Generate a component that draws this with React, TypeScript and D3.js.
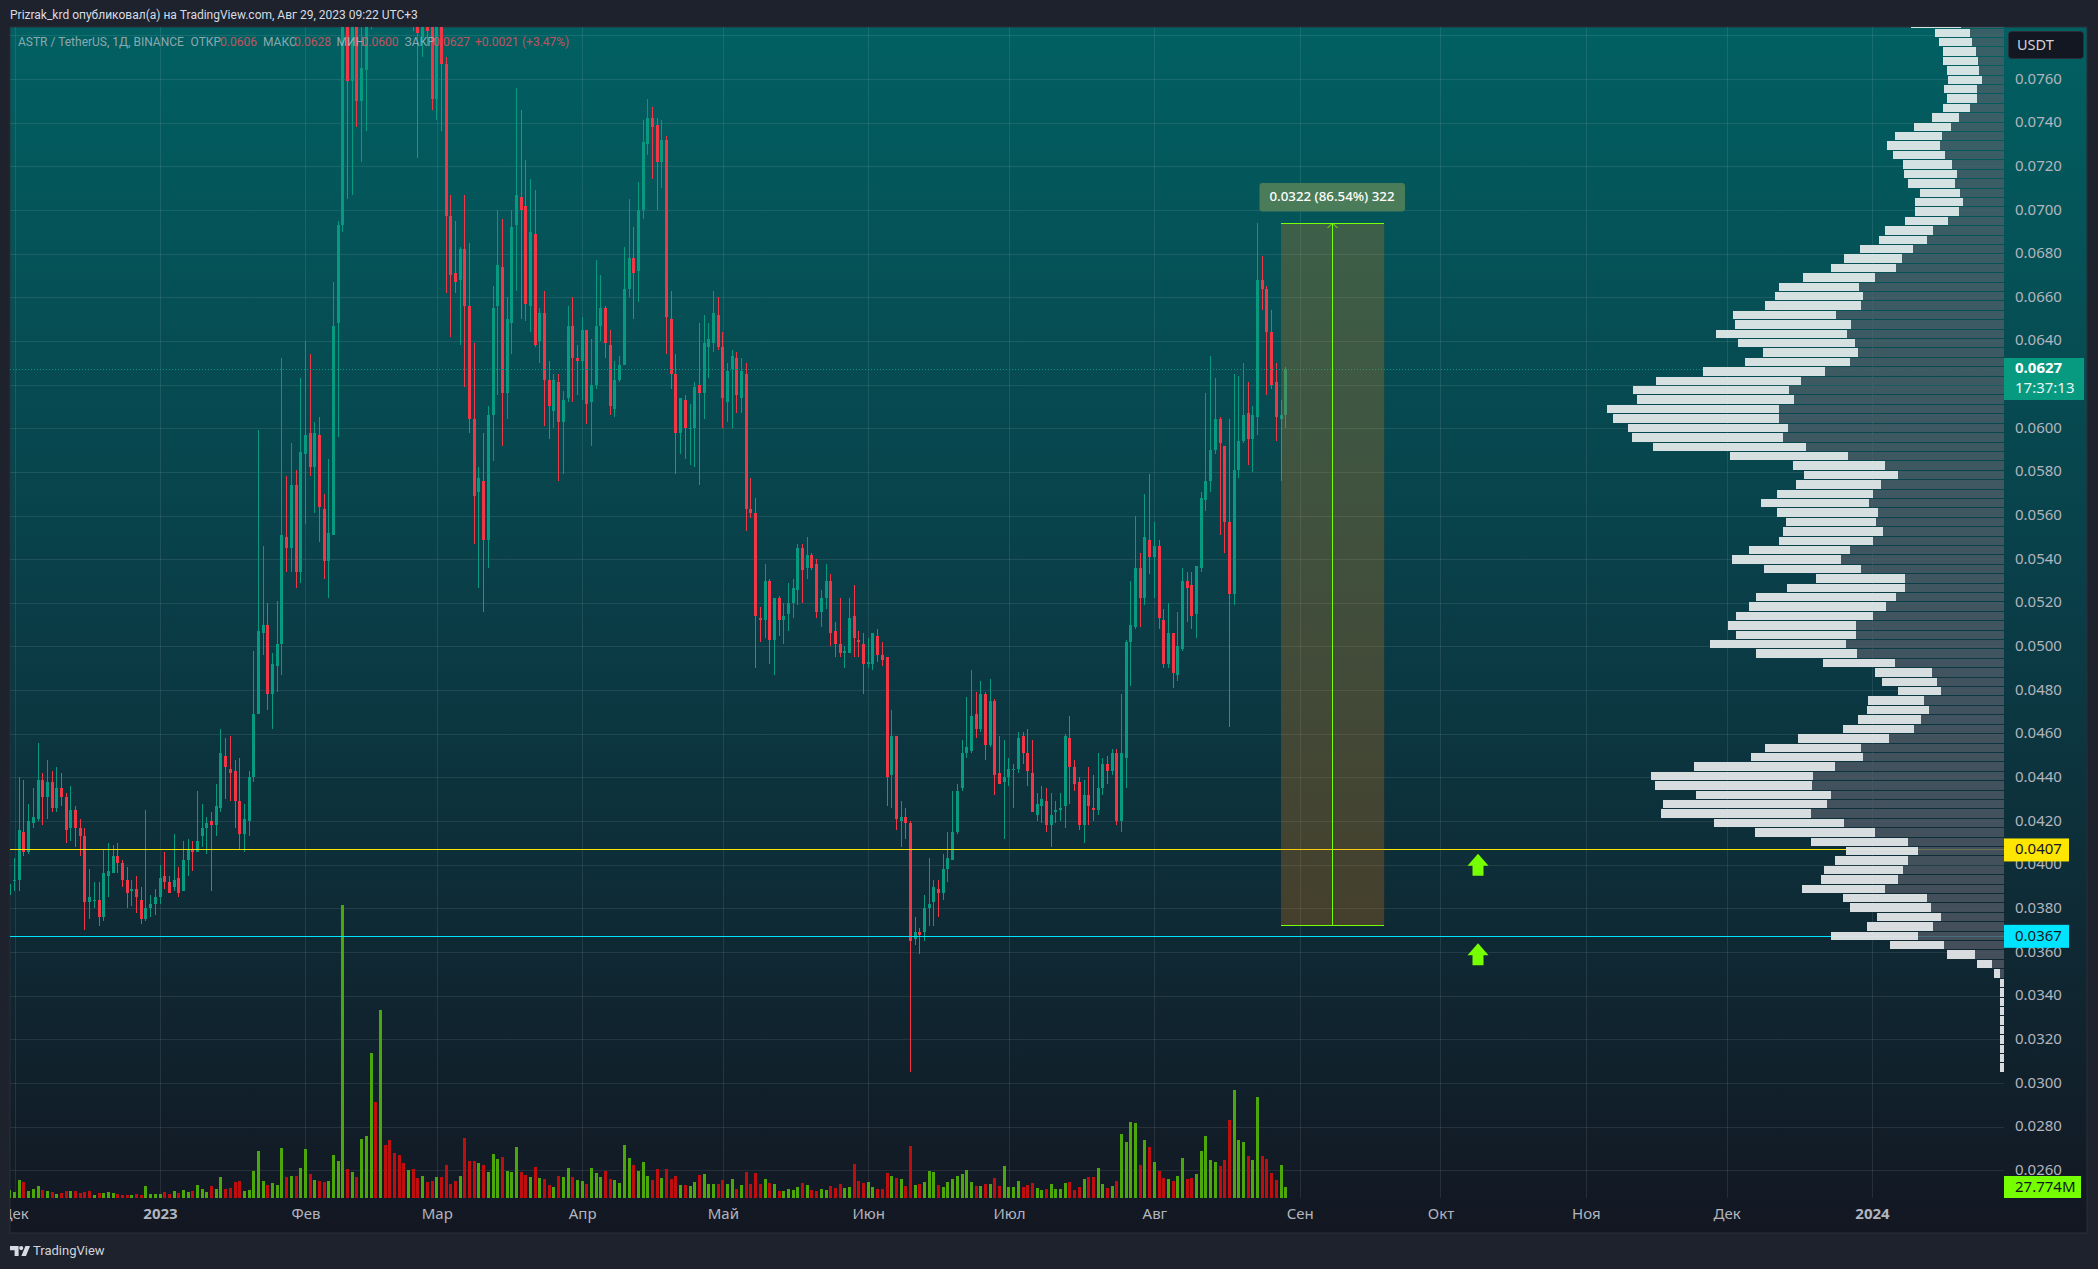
import { useEffect, useRef } from 'react';
import * as d3 from 'd3';

// daily candles, first one is 30 Nov 2022, last one is 29 Aug 2023
const firstDay = Date.UTC(2022, 10, 30);

const opens = [
  0.0386, 0.0393, 0.0393, 0.0415, 0.0406, 0.0419, 0.0421, 0.0439, 0.0431, 0.0438,
  0.0426, 0.0435, 0.0431, 0.0417, 0.0425, 0.0417, 0.0413, 0.0383, 0.0384, 0.0384,
  0.0376, 0.0395, 0.0396, 0.0404, 0.0401, 0.0393, 0.0388, 0.0389, 0.0384, 0.0375,
  0.0380, 0.0382, 0.0385, 0.0395, 0.0392, 0.0390, 0.0394, 0.0388, 0.0402, 0.0407,
  0.0406, 0.0413, 0.0417, 0.0420, 0.0418, 0.0426, 0.0450, 0.0444, 0.0443, 0.0429,
  0.0414, 0.0420, 0.0440, 0.0469, 0.0506, 0.0510, 0.0478, 0.0491, 0.0501, 0.0550,
  0.0545, 0.0574, 0.0534, 0.0588, 0.0598, 0.0582, 0.0597, 0.0563, 0.0539, 0.0551,
  0.0648, 0.0693, 0.0840, 0.0759, 0.0830, 0.0750, 0.0764, 0.0800, 0.0815, 0.0800,
  0.0850, 0.0825, 0.0810, 0.0800, 0.0795, 0.0790, 0.0800, 0.0795, 0.0779, 0.0785,
  0.0790, 0.0751, 0.0788, 0.0767, 0.0697, 0.0671, 0.0668, 0.0682, 0.0656, 0.0604,
  0.0571, 0.0576, 0.0549, 0.0606, 0.0656, 0.0674, 0.0616, 0.0648, 0.0693, 0.0706,
  0.0702, 0.0656, 0.0689, 0.0640, 0.0653, 0.0622, 0.0608, 0.0621, 0.0603, 0.0614,
  0.0647, 0.0632, 0.0631, 0.0645, 0.0612, 0.0620, 0.0647, 0.0655, 0.0638, 0.0609,
  0.0622, 0.0629, 0.0664, 0.0678, 0.0672, 0.0700, 0.0730, 0.0742, 0.0739, 0.0722,
  0.0732, 0.0650, 0.0625, 0.0598, 0.0613, 0.0600, 0.0600, 0.0620, 0.0616, 0.0637,
  0.0639, 0.0652, 0.0637, 0.0612, 0.0627, 0.0632, 0.0614, 0.0625, 0.0563, 0.0561,
  0.0513, 0.0512, 0.0530, 0.0503, 0.0522, 0.0512, 0.0515, 0.0520, 0.0526, 0.0545,
  0.0536, 0.0542, 0.0538, 0.0516, 0.0522, 0.0530, 0.0507, 0.0501, 0.0497, 0.0497,
  0.0514, 0.0503, 0.0501, 0.0492, 0.0492, 0.0505, 0.0496, 0.0495, 0.0441, 0.0459,
  0.0420, 0.0422, 0.0419, 0.0366, 0.0369, 0.0369, 0.0380, 0.0383, 0.0389, 0.0387,
  0.0398, 0.0402, 0.0415, 0.0435, 0.0451, 0.0452, 0.0469, 0.0462, 0.0478, 0.0455,
  0.0475, 0.0442, 0.0438, 0.0440, 0.0444, 0.0444, 0.0459, 0.0451, 0.0442, 0.0423,
  0.0427, 0.0429, 0.0418, 0.0424, 0.0425, 0.0427, 0.0458, 0.0445, 0.0438, 0.0418,
  0.0432, 0.0426, 0.0425, 0.0435, 0.0446, 0.0443, 0.0451, 0.0420, 0.0449, 0.0502,
  0.0509, 0.0536, 0.0522, 0.0549, 0.0541, 0.0546, 0.0512, 0.0492, 0.0506, 0.0487,
  0.0499, 0.0530, 0.0528, 0.0515, 0.0536, 0.0567, 0.0576, 0.0590, 0.0604, 0.0592,
  0.0557, 0.0524, 0.0581, 0.0594, 0.0607, 0.0595, 0.0605, 0.0668, 0.0664, 0.0644,
  0.0621, 0.0604, 0.0606,
];

const closes = [
  0.0391, 0.0393, 0.0416, 0.0406, 0.0420, 0.0422, 0.0439, 0.0431, 0.0438, 0.0426,
  0.0435, 0.0431, 0.0416, 0.0425, 0.0417, 0.0413, 0.0383, 0.0385, 0.0384, 0.0376,
  0.0396, 0.0397, 0.0404, 0.0401, 0.0393, 0.0387, 0.0389, 0.0385, 0.0375, 0.0380,
  0.0382, 0.0385, 0.0394, 0.0392, 0.0387, 0.0393, 0.0387, 0.0402, 0.0407, 0.0406,
  0.0411, 0.0417, 0.0419, 0.0418, 0.0427, 0.0451, 0.0445, 0.0442, 0.0429, 0.0414,
  0.0421, 0.0440, 0.0469, 0.0507, 0.0510, 0.0478, 0.0492, 0.0501, 0.0551, 0.0545,
  0.0574, 0.0534, 0.0589, 0.0597, 0.0582, 0.0598, 0.0564, 0.0539, 0.0552, 0.0647,
  0.0693, 0.0840, 0.0759, 0.0830, 0.0750, 0.0765, 0.0800, 0.0815, 0.0800, 0.0850,
  0.0825, 0.0810, 0.0800, 0.0795, 0.0790, 0.0800, 0.0795, 0.0781, 0.0785, 0.0782,
  0.0751, 0.0788, 0.0767, 0.0697, 0.0670, 0.0667, 0.0682, 0.0656, 0.0604, 0.0569,
  0.0577, 0.0549, 0.0606, 0.0655, 0.0675, 0.0616, 0.0650, 0.0692, 0.0707, 0.0700,
  0.0657, 0.0690, 0.0638, 0.0653, 0.0622, 0.0610, 0.0622, 0.0603, 0.0613, 0.0647,
  0.0632, 0.0631, 0.0645, 0.0611, 0.0620, 0.0647, 0.0655, 0.0639, 0.0610, 0.0622,
  0.0629, 0.0664, 0.0678, 0.0671, 0.0700, 0.0731, 0.0742, 0.0738, 0.0722, 0.0732,
  0.0651, 0.0625, 0.0598, 0.0614, 0.0600, 0.0600, 0.0619, 0.0616, 0.0639, 0.0641,
  0.0653, 0.0637, 0.0614, 0.0626, 0.0633, 0.0615, 0.0626, 0.0563, 0.0561, 0.0514,
  0.0512, 0.0530, 0.0503, 0.0522, 0.0512, 0.0514, 0.0520, 0.0527, 0.0545, 0.0535,
  0.0542, 0.0536, 0.0516, 0.0522, 0.0530, 0.0506, 0.0501, 0.0497, 0.0498, 0.0513,
  0.0504, 0.0502, 0.0492, 0.0493, 0.0506, 0.0496, 0.0494, 0.0440, 0.0459, 0.0421,
  0.0422, 0.0419, 0.0365, 0.0369, 0.0368, 0.0380, 0.0382, 0.0390, 0.0387, 0.0398,
  0.0403, 0.0415, 0.0434, 0.0451, 0.0454, 0.0468, 0.0462, 0.0478, 0.0455, 0.0475,
  0.0441, 0.0437, 0.0440, 0.0444, 0.0444, 0.0458, 0.0451, 0.0443, 0.0424, 0.0428,
  0.0430, 0.0418, 0.0423, 0.0425, 0.0426, 0.0459, 0.0445, 0.0437, 0.0418, 0.0432,
  0.0427, 0.0425, 0.0435, 0.0446, 0.0443, 0.0451, 0.0420, 0.0451, 0.0502, 0.0510,
  0.0536, 0.0522, 0.0550, 0.0541, 0.0546, 0.0513, 0.0492, 0.0506, 0.0488, 0.0500,
  0.0530, 0.0527, 0.0514, 0.0537, 0.0568, 0.0576, 0.0590, 0.0604, 0.0593, 0.0557,
  0.0524, 0.0581, 0.0594, 0.0606, 0.0595, 0.0606, 0.0668, 0.0664, 0.0644, 0.0620,
  0.0605, 0.0606, 0.0627,
];

const highs = [
  0.0393, 0.0403, 0.0440, 0.0439, 0.0428, 0.0435, 0.0456, 0.0442, 0.0448, 0.0443,
  0.0445, 0.0442, 0.0433, 0.0436, 0.0427, 0.0421, 0.0417, 0.0398, 0.0392, 0.0392,
  0.0407, 0.0410, 0.0409, 0.0410, 0.0402, 0.0399, 0.0393, 0.0395, 0.0390, 0.0425,
  0.0386, 0.0389, 0.0400, 0.0406, 0.0395, 0.0414, 0.0399, 0.0411, 0.0412, 0.0411,
  0.0434, 0.0428, 0.0422, 0.0424, 0.0437, 0.0462, 0.0458, 0.0459, 0.0448, 0.0449,
  0.0428, 0.0443, 0.0498, 0.0599, 0.0546, 0.0520, 0.0497, 0.0521, 0.0632, 0.0578,
  0.0593, 0.0581, 0.0623, 0.0640, 0.0634, 0.0603, 0.0605, 0.0570, 0.0586, 0.0667,
  0.0695, 0.0860, 0.0870, 0.0860, 0.0850, 0.0790, 0.0820, 0.0840, 0.0900, 0.0950,
  0.0870, 0.0840, 0.0830, 0.0815, 0.0810, 0.0815, 0.0810, 0.0810, 0.0795, 0.0800,
  0.0800, 0.0795, 0.0800, 0.0770, 0.0707, 0.0695, 0.0683, 0.0707, 0.0685, 0.0639,
  0.0582, 0.0598, 0.0610, 0.0665, 0.0700, 0.0696, 0.0660, 0.0700, 0.0756, 0.0746,
  0.0723, 0.0714, 0.0709, 0.0655, 0.0663, 0.0631, 0.0625, 0.0625, 0.0617, 0.0656,
  0.0660, 0.0638, 0.0651, 0.0645, 0.0641, 0.0677, 0.0670, 0.0656, 0.0645, 0.0631,
  0.0633, 0.0683, 0.0705, 0.0692, 0.0713, 0.0741, 0.0751, 0.0747, 0.0742, 0.0741,
  0.0734, 0.0663, 0.0634, 0.0614, 0.0615, 0.0611, 0.0621, 0.0648, 0.0652, 0.0648,
  0.0663, 0.0660, 0.0644, 0.0630, 0.0636, 0.0635, 0.0632, 0.0630, 0.0577, 0.0568,
  0.0518, 0.0538, 0.0531, 0.0522, 0.0523, 0.0520, 0.0529, 0.0531, 0.0547, 0.0547,
  0.0550, 0.0543, 0.0540, 0.0526, 0.0538, 0.0533, 0.0511, 0.0522, 0.0500, 0.0522,
  0.0528, 0.0507, 0.0506, 0.0504, 0.0506, 0.0508, 0.0502, 0.0495, 0.0471, 0.0459,
  0.0429, 0.0426, 0.0420, 0.0376, 0.0371, 0.0386, 0.0403, 0.0393, 0.0393, 0.0405,
  0.0415, 0.0434, 0.0437, 0.0457, 0.0477, 0.0489, 0.0479, 0.0484, 0.0479, 0.0485,
  0.0476, 0.0459, 0.0457, 0.0449, 0.0446, 0.0461, 0.0461, 0.0462, 0.0457, 0.0433,
  0.0436, 0.0435, 0.0433, 0.0429, 0.0433, 0.0460, 0.0468, 0.0448, 0.0440, 0.0439,
  0.0445, 0.0441, 0.0451, 0.0449, 0.0450, 0.0453, 0.0453, 0.0478, 0.0503, 0.0530,
  0.0560, 0.0543, 0.0570, 0.0579, 0.0557, 0.0549, 0.0517, 0.0520, 0.0506, 0.0516,
  0.0536, 0.0534, 0.0534, 0.0537, 0.0571, 0.0616, 0.0633, 0.0623, 0.0605, 0.0592,
  0.0604, 0.0625, 0.0624, 0.0630, 0.0621, 0.0610, 0.0694, 0.0679, 0.0665, 0.0654,
  0.0630, 0.0613, 0.0628,
];

const lows = [
  0.0385, 0.0388, 0.0388, 0.0404, 0.0405, 0.0417, 0.0420, 0.0418, 0.0421, 0.0424,
  0.0424, 0.0427, 0.0410, 0.0411, 0.0408, 0.0404, 0.0370, 0.0375, 0.0380, 0.0372,
  0.0374, 0.0385, 0.0396, 0.0396, 0.0390, 0.0380, 0.0381, 0.0378, 0.0373, 0.0374,
  0.0376, 0.0377, 0.0382, 0.0389, 0.0387, 0.0388, 0.0385, 0.0388, 0.0395, 0.0397,
  0.0406, 0.0408, 0.0405, 0.0388, 0.0413, 0.0424, 0.0430, 0.0429, 0.0417, 0.0407,
  0.0406, 0.0413, 0.0438, 0.0469, 0.0496, 0.0471, 0.0462, 0.0479, 0.0487, 0.0534,
  0.0534, 0.0527, 0.0529, 0.0556, 0.0578, 0.0561, 0.0548, 0.0531, 0.0522, 0.0551,
  0.0596, 0.0690, 0.0705, 0.0707, 0.0738, 0.0722, 0.0736, 0.0783, 0.0790, 0.0790,
  0.0800, 0.0795, 0.0790, 0.0790, 0.0788, 0.0786, 0.0782, 0.0724, 0.0770, 0.0775,
  0.0746, 0.0741, 0.0736, 0.0662, 0.0642, 0.0662, 0.0638, 0.0619, 0.0598, 0.0547,
  0.0527, 0.0516, 0.0536, 0.0585, 0.0615, 0.0592, 0.0604, 0.0634, 0.0663, 0.0650,
  0.0649, 0.0644, 0.0637, 0.0630, 0.0601, 0.0595, 0.0600, 0.0576, 0.0579, 0.0612,
  0.0612, 0.0615, 0.0613, 0.0602, 0.0592, 0.0618, 0.0640, 0.0632, 0.0606, 0.0605,
  0.0621, 0.0629, 0.0660, 0.0650, 0.0658, 0.0696, 0.0725, 0.0714, 0.0700, 0.0710,
  0.0634, 0.0618, 0.0579, 0.0588, 0.0586, 0.0583, 0.0582, 0.0574, 0.0604, 0.0623,
  0.0635, 0.0636, 0.0600, 0.0603, 0.0600, 0.0607, 0.0607, 0.0553, 0.0559, 0.0490,
  0.0502, 0.0504, 0.0492, 0.0487, 0.0505, 0.0501, 0.0507, 0.0513, 0.0519, 0.0520,
  0.0531, 0.0535, 0.0513, 0.0509, 0.0517, 0.0500, 0.0495, 0.0495, 0.0490, 0.0497,
  0.0495, 0.0495, 0.0478, 0.0490, 0.0489, 0.0493, 0.0491, 0.0427, 0.0426, 0.0416,
  0.0408, 0.0412, 0.0305, 0.0363, 0.0359, 0.0365, 0.0372, 0.0372, 0.0376, 0.0384,
  0.0392, 0.0402, 0.0414, 0.0434, 0.0449, 0.0451, 0.0458, 0.0461, 0.0448, 0.0454,
  0.0432, 0.0437, 0.0412, 0.0436, 0.0426, 0.0442, 0.0446, 0.0436, 0.0424, 0.0420,
  0.0419, 0.0415, 0.0408, 0.0419, 0.0420, 0.0417, 0.0428, 0.0434, 0.0416, 0.0410,
  0.0418, 0.0420, 0.0423, 0.0432, 0.0437, 0.0441, 0.0418, 0.0415, 0.0435, 0.0482,
  0.0508, 0.0509, 0.0519, 0.0533, 0.0522, 0.0508, 0.0490, 0.0490, 0.0481, 0.0484,
  0.0498, 0.0511, 0.0508, 0.0504, 0.0534, 0.0562, 0.0571, 0.0588, 0.0551, 0.0543,
  0.0463, 0.0519, 0.0577, 0.0593, 0.0583, 0.0580, 0.0597, 0.0654, 0.0615, 0.0618,
  0.0594, 0.0576, 0.0600,
];

// volume in millions
const volumes = [
  20, 15, 45, 40, 18, 23, 30, 20, 18, 15,
  10, 13, 18, 18, 18, 13, 15, 18, 8, 13,
  13, 15, 13, 10, 8, 8, 8, 10, 8, 30,
  10, 10, 10, 15, 10, 18, 13, 20, 15, 18,
  33, 23, 15, 30, 23, 53, 23, 25, 40, 43,
  18, 20, 68, 119, 43, 33, 38, 33, 126, 53,
  56, 56, 76, 124, 61, 45, 43, 40, 43, 109,
  93, 740, 73, 66, 53, 149, 157, 366, 242, 475,
  134, 146, 114, 109, 88, 71, 73, 50, 56, 40,
  43, 53, 53, 83, 35, 43, 56, 151, 93, 93,
  88, 83, 66, 111, 98, 104, 68, 66, 129, 66,
  58, 53, 78, 50, 48, 33, 28, 56, 53, 76,
  53, 45, 43, 35, 76, 63, 53, 68, 48, 45,
  38, 134, 101, 83, 68, 91, 56, 45, 73, 50,
  73, 48, 56, 33, 33, 30, 40, 58, 61, 35,
  35, 35, 45, 35, 48, 23, 33, 66, 35, 63,
  35, 48, 38, 35, 18, 18, 23, 20, 28, 38,
  33, 20, 18, 23, 20, 30, 25, 35, 25, 28,
  86, 43, 38, 40, 28, 23, 23, 63, 56, 50,
  48, 30, 131, 33, 35, 40, 68, 66, 33, 28,
  40, 48, 56, 61, 71, 40, 30, 30, 35, 35,
  50, 30, 81, 28, 28, 43, 28, 33, 38, 25,
  20, 23, 35, 23, 23, 38, 40, 20, 28, 48,
  53, 53, 76, 35, 25, 30, 43, 162, 141, 192,
  189, 83, 146, 129, 91, 68, 50, 48, 43, 56,
  101, 48, 50, 61, 119, 157, 96, 91, 81, 96,
  197, 273, 146, 141, 106, 96, 255, 106, 98, 63,
  45, 83, 27.774,
];
// days whose volume bar has the other colour than the candle body
const volumeFlipped = [17, 121];

// volume profile, rows from the top of the chart downwards
const profileTopPrice = 0.07874;
const profileStep = 0.000431;
const profileLight = [
  149, 105, 99, 99, 105, 96, 102, 99, 90, 81, 81, 111, 141, 159, 156, 147, 159, 141, 120, 144,
  132, 129, 144, 144, 159, 174, 195, 216, 240, 264, 288, 309, 348, 393, 351, 285, 315, 366, 435, 468,
  471, 516, 498, 480, 453, 459, 354, 276, 282, 255, 288, 324, 303, 270, 300, 282, 303, 327, 291, 267,
  354, 420, 411, 411, 384, 360, 408, 303, 216, 171, 165, 129, 168, 186, 189, 213, 273, 288, 336, 423,
  486, 471, 405, 492, 450, 390, 360, 291, 216, 219, 237, 231, 249, 252, 243, 192, 198, 261, 162, 84,
  45, 18, 12, 12, 12, 12, 12, 12, 12, 12, 12, 12,
];
const profileDark = [
  130, 102, 96, 84, 78, 75, 66, 81, 81, 102, 135, 159, 186, 192, 177, 156, 141, 147, 132, 123,
  135, 168, 213, 231, 273, 306, 324, 387, 435, 423, 429, 504, 459, 471, 447, 438, 462, 537, 609, 645,
  630, 675, 675, 648, 663, 594, 468, 357, 318, 369, 393, 405, 378, 384, 363, 393, 462, 489, 429, 297,
  297, 324, 354, 393, 444, 444, 474, 441, 327, 216, 201, 189, 240, 225, 249, 270, 345, 429, 423, 507,
  573, 576, 519, 531, 579, 480, 387, 288, 258, 288, 303, 318, 357, 231, 219, 189, 213, 258, 180, 87,
  36, 12, 0, 0, 0, 0, 0, 0, 0, 0, 0, 0,
];

const priceTicks = [
  0.026, 0.028, 0.03, 0.032, 0.034, 0.036, 0.038, 0.04, 0.042, 0.044, 0.046, 0.048, 0.05, 0.052,
  0.054, 0.056, 0.058, 0.06, 0.062, 0.064, 0.066, 0.068, 0.07, 0.072, 0.074, 0.076, 0.078,
];
// 0.062 and 0.078 sit fully under the last price tag and the currency box
const hiddenPriceLabels = [0.062, 0.078];
const monthTicks = [
  [2022, 11], [2023, 0], [2023, 1], [2023, 2], [2023, 3], [2023, 4], [2023, 5],
  [2023, 6], [2023, 7], [2023, 8], [2023, 9], [2023, 10], [2023, 11], [2024, 0],
].map(([y, m]) => new Date(Date.UTC(y, m, 1)));
const monthLabels = ['Дек', '2023', 'Фев', 'Мар', 'Апр', 'Май', 'Июн', 'Июл', 'Авг', 'Сен', 'Окт', 'Ноя', 'Дек', '2024'];

const lastPrice = 0.0627;
const yellowLevel = 0.0407;
const cyanLevel = 0.03672;
const measureLow = 0.0372;
const measureHigh = 0.0694;
const measureStart = new Date(Date.UTC(2023, 7, 28));
const measureEnd = new Date(Date.UTC(2023, 8, 19));
const arrowDay = new Date(Date.UTC(2023, 9, 9));
const arrowPrices = [0.0405, 0.0364];

const FONT = '"Noto Sans", sans-serif';
const HEAD_FONT = 'Roboto, sans-serif';
const GREEN = '#089981';
const RED = '#f23645';
const LIME = '#76ff05';

export default function App() {
  const svgRef = useRef<SVGSVGElement>(null);

  useEffect(() => {
    if (!svgRef.current) return;
    document.body.style.margin = '0';
    document.body.style.background = '#1e222d';

    const W = 2098;
    const H = 1269;
    const left = 10;
    const top = 27;
    const plotRight = 2004;
    const plotBottom = 1198;
    const panelRight = 2087;
    const panelBottom = 1233;

    const svg = d3.select(svgRef.current);
    svg.selectAll('*').remove();
    svg.attr('width', W).attr('height', H).style('display', 'block').style('font-family', FONT);

    const defs = svg.append('defs');
    const bg = defs.append('linearGradient').attr('id', 'panelBg').attr('x1', 0).attr('x2', 0).attr('y1', 0).attr('y2', 1);
    bg.append('stop').attr('offset', '0%').attr('stop-color', '#016062');
    bg.append('stop').attr('offset', '50%').attr('stop-color', '#0a3c46');
    bg.append('stop').attr('offset', '100%').attr('stop-color', '#131722');
    const darkGrad = defs.append('linearGradient').attr('id', 'profileDark').attr('gradientUnits', 'userSpaceOnUse')
      .attr('x1', 0).attr('x2', 0).attr('y1', top).attr('y2', 1070);
    darkGrad.append('stop').attr('offset', '0%').attr('stop-color', '#456068');
    darkGrad.append('stop').attr('offset', '100%').attr('stop-color', '#515663');
    const lightGrad = defs.append('linearGradient').attr('id', 'profileLight').attr('gradientUnits', 'userSpaceOnUse')
      .attr('x1', 0).attr('x2', 0).attr('y1', top).attr('y2', 1070);
    lightGrad.append('stop').attr('offset', '0%').attr('stop-color', '#dde8e8');
    lightGrad.append('stop').attr('offset', '100%').attr('stop-color', '#e1e3e5');
    defs.append('clipPath').attr('id', 'plotClip').append('rect')
      .attr('x', left).attr('y', top).attr('width', plotRight - left).attr('height', plotBottom - top);
    defs.append('clipPath').attr('id', 'axisClip').append('rect')
      .attr('x', left).attr('y', plotBottom).attr('width', plotRight - left).attr('height', panelBottom - plotBottom);

    // frame
    svg.append('rect').attr('width', W).attr('height', H).attr('fill', '#1e222d');
    svg.append('rect').attr('x', left).attr('y', top).attr('width', panelRight - left).attr('height', panelBottom - top)
      .attr('fill', 'url(#panelBg)').attr('stroke', '#2a2e39').attr('stroke-width', 1);

    // scales
    const x = d3.scaleUtc()
      .domain([new Date(Date.UTC(2023, 0, 1)), new Date(Date.UTC(2024, 0, 1))])
      .range([160, 1872]);
    const y = d3.scaleLinear().domain([0.024731, 0.078382]).range([plotBottom, top]);
    const yVol = d3.scaleLinear().domain([0, 740]).range([plotBottom, 905]);
    const profileWidth = d3.scaleLinear().domain([0, 1191]).range([0, 397]);
    const dayX = (i: number) => Math.floor(x(new Date(firstDay + i * 86400000)));
    const crisp = (v: number) => Math.round(v) + 0.5;
    const crispDown = (v: number) => Math.floor(v) + 0.5;

    const plot = svg.append('g').attr('clip-path', 'url(#plotClip)');

    // grid
    plot.append('g').attr('shape-rendering', 'crispEdges').selectAll('line').data(priceTicks).join('line')
      .attr('x1', left).attr('x2', plotRight)
      .attr('y1', d => crisp(y(d))).attr('y2', d => crisp(y(d)))
      .attr('stroke', 'rgba(255,255,255,0.09)');
    plot.append('g').attr('shape-rendering', 'crispEdges').selectAll('line').data(monthTicks).join('line')
      .attr('y1', top).attr('y2', plotBottom)
      .attr('x1', d => crisp(x(d))).attr('x2', d => crisp(x(d)))
      .attr('stroke', 'rgba(255,255,255,0.09)');

    // volume
    const isUp = (i: number) => closes[i] >= opens[i];
    plot.append('g').attr('shape-rendering', 'crispEdges').selectAll('rect').data(volumes).join('rect')
      .attr('x', (_, i) => dayX(i) - 1)
      .attr('width', 3)
      .attr('y', d => yVol(d))
      .attr('height', d => plotBottom - yVol(d))
      .attr('fill', (_, i) => (isUp(i) !== volumeFlipped.includes(i) ? '#4ca80a' : '#c00d0d'));

    // candles
    const candles = plot.append('g').attr('shape-rendering', 'crispEdges').selectAll('g').data(opens).join('g');
    candles.append('rect')
      .attr('x', (_, i) => dayX(i))
      .attr('width', 1)
      .attr('y', (_, i) => y(highs[i]))
      .attr('height', (_, i) => y(lows[i]) - y(highs[i]))
      .attr('fill', (_, i) => (isUp(i) ? GREEN : RED));
    candles.append('rect')
      .attr('x', (_, i) => dayX(i) - 1)
      .attr('width', 3)
      .attr('y', (d, i) => y(Math.max(d, closes[i])))
      .attr('height', (d, i) => Math.max(1, Math.abs(y(d) - y(closes[i]))))
      .attr('fill', (_, i) => (isUp(i) ? GREEN : RED));

    // horizontal levels and last price
    plot.append('line').attr('x1', left).attr('x2', plotRight).attr('y1', crisp(y(yellowLevel))).attr('y2', crisp(y(yellowLevel)))
      .attr('stroke', '#ffe600').attr('shape-rendering', 'crispEdges');
    plot.append('line').attr('x1', left).attr('x2', plotRight).attr('y1', crisp(y(cyanLevel))).attr('y2', crisp(y(cyanLevel)))
      .attr('stroke', '#00e5ff').attr('shape-rendering', 'crispEdges');
    plot.append('line').attr('x1', left).attr('x2', plotRight).attr('y1', crisp(y(lastPrice))).attr('y2', crisp(y(lastPrice)))
      .attr('stroke', GREEN).attr('stroke-dasharray', '1 2');

    // measure tool
    const mx0 = x(measureStart);
    const mx1 = x(measureEnd);
    const mxc = crispDown((mx0 + mx1) / 2 - 0.5);
    const measure = plot.append('g');
    measure.append('rect').attr('x', mx0).attr('width', mx1 - mx0)
      .attr('y', crispDown(y(measureHigh))).attr('height', crispDown(y(measureLow)) - crispDown(y(measureHigh)))
      .attr('fill', 'rgba(230,128,25,0.25)');
    for (const p of [measureHigh, measureLow]) {
      measure.append('line').attr('x1', mx0).attr('x2', mx1).attr('y1', crispDown(y(p))).attr('y2', crispDown(y(p)))
        .attr('stroke', LIME).attr('shape-rendering', 'crispEdges');
    }
    measure.append('line').attr('x1', mxc).attr('x2', mxc).attr('y1', y(measureHigh)).attr('y2', y(measureLow))
      .attr('stroke', LIME).attr('shape-rendering', 'crispEdges');
    const chevron = d3.path();
    chevron.moveTo(mxc - 5, y(measureHigh) + 5);
    chevron.lineTo(mxc, y(measureHigh));
    chevron.lineTo(mxc + 5, y(measureHigh) + 5);
    measure.append('path').attr('d', chevron.toString()).attr('fill', 'none').attr('stroke', LIME);
    measure.append('rect').attr('x', 1259.5).attr('y', 183).attr('width', 145.5).attr('height', 28.5).attr('rx', 3)
      .attr('fill', '#4a7c59');
    measure.append('text').attr('x', 1332).attr('y', 197).attr('dy', '0.33em').attr('text-anchor', 'middle')
      .attr('fill', '#fff').attr('font-size', 13.3).attr('font-weight', 500).text('0.0322 (86.54%) 322');

    // volume profile on the right
    const rowTop = (k: number) => Math.round(y(profileTopPrice - k * profileStep));
    const profile = plot.append('g').attr('shape-rendering', 'crispEdges');
    profile.selectAll('rect.dark').data(profileDark).join('rect').attr('class', 'dark')
      .attr('x', d => plotRight - profileWidth(d))
      .attr('width', d => profileWidth(d))
      .attr('y', (_, k) => rowTop(k))
      .attr('height', (_, k) => rowTop(k + 1) - rowTop(k) - 1)
      .attr('fill', 'url(#profileDark)').attr('fill-opacity', 0.82);
    profile.selectAll('rect.light').data(profileLight).join('rect').attr('class', 'light')
      .attr('x', (d, k) => plotRight - profileWidth(profileDark[k]) - profileWidth(d))
      .attr('width', d => profileWidth(d))
      .attr('y', (_, k) => rowTop(k))
      .attr('height', (_, k) => rowTop(k + 1) - rowTop(k) - 1)
      .attr('fill', 'url(#profileLight)').attr('fill-opacity', 0.96);

    // the two arrows below the levels
    const arrow = (cx: number, tip: number) => {
      const p = d3.path();
      p.moveTo(cx, tip);
      p.lineTo(cx + 10.5, tip + 12);
      p.lineTo(cx + 5.5, tip + 12);
      p.lineTo(cx + 5.5, tip + 22);
      p.lineTo(cx - 5.5, tip + 22);
      p.lineTo(cx - 5.5, tip + 12);
      p.lineTo(cx - 10.5, tip + 12);
      p.closePath();
      return p.toString();
    };
    plot.append('g').selectAll('path').data(arrowPrices).join('path')
      .attr('d', d => arrow(x(arrowDay), y(d)))
      .attr('fill', '#76ff00');

    // price axis
    const yAxis = d3.axisRight(y)
      .tickValues(priceTicks.filter(t => !hiddenPriceLabels.includes(t)))
      .tickFormat(d3.format('.4f') as any).tickSize(0).tickPadding(11);
    const yAxisG = svg.append('g').attr('transform', `translate(${plotRight},0)`).call(yAxis);
    yAxisG.select('.domain').remove();
    yAxisG.selectAll('text').attr('fill', '#b2b5be').attr('font-size', 15).attr('font-family', FONT).attr('dy', '0.27em');

    // time axis
    const xAxis = d3.axisBottom(x).tickValues(monthTicks).tickFormat((_, i) => monthLabels[i]).tickSize(0).tickPadding(10);
    const xAxisG = svg.append('g').attr('clip-path', 'url(#axisClip)').append('g')
      .attr('transform', `translate(0,${plotBottom})`).call(xAxis);
    xAxisG.select('.domain').remove();
    xAxisG.selectAll('text').attr('fill', '#b2b5be').attr('font-size', 15).attr('font-family', FONT)
      .attr('font-weight', (_, i) => (monthLabels[i].startsWith('20') ? 700 : 400));

    // tags on the price axis
    const tag = (ty: number, h: number, w: number, fill: string, color: string, label: string) => {
      svg.append('rect').attr('x', plotRight).attr('y', ty).attr('width', w).attr('height', h).attr('fill', fill);
      svg.append('text').attr('x', plotRight + 11).attr('y', ty + h / 2).attr('dy', '0.3em')
        .attr('fill', color).attr('font-size', 15).text(label);
    };
    tag(y(yellowLevel) - 11, 23, 65, '#ffe600', '#131722', '0.0407');
    tag(y(cyanLevel) - 11.5, 23, 65, '#00e5ff', '#131722', '0.0367');
    tag(1176, 22, 77, '#76ff00', '#131722', '27.774M');

    svg.append('rect').attr('x', plotRight).attr('y', 358).attr('width', 80).attr('height', 42).attr('fill', GREEN);
    svg.append('text').attr('x', plotRight + 11).attr('y', y(lastPrice)).attr('dy', '0.28em')
      .attr('fill', '#fff').attr('font-size', 15).attr('font-weight', 700).text('0.0627');
    svg.append('text').attr('x', plotRight + 11).attr('y', 388.5).attr('dy', '0.3em')
      .attr('fill', '#e6f5f1').attr('font-size', 15).text('17:37:13');

    svg.append('rect').attr('x', 2008.5).attr('y', 31.5).attr('width', 75).attr('height', 27).attr('rx', 3)
      .attr('fill', '#131722').attr('stroke', '#2a2e39');
    svg.append('text').attr('x', 2017).attr('y', 45).attr('dy', '0.33em')
      .attr('fill', '#d1d4dc').attr('font-size', 14.5).text('USDT');

    // header and symbol line
    svg.append('text').attr('x', 10).attr('y', 15).attr('dy', '0.36em').style('font-family', HEAD_FONT)
      .attr('fill', '#d8dbe2').attr('font-size', 12).text('Prizrak_krd опубликовал(а) на TradingView.com, Авг 29, 2023 09:22 UTC+3');

    const legendGrey = 'rgba(178,190,195,0.8)';
    const legendRed = 'rgba(242,80,95,0.8)';
    const legend: [number, string, string][] = [
      [18, 'ASTR / TetherUS, 1Д, BINANCE', legendGrey],
      [190.6, 'ОТКР', legendGrey], [220, '0.0606', legendRed],
      [263, 'МАКС', legendGrey], [294, '0.0628', legendRed],
      [336.6, 'МИН', legendGrey], [361.6, '0.0600', legendRed],
      [404.5, 'ЗАКР', legendGrey], [433, '0.0627', legendRed],
      [475, '+0.0021', legendRed], [522, '(+3.47%)', legendRed],
    ];
    svg.append('g').selectAll('text').data(legend).join('text')
      .attr('x', d => d[0]).attr('y', 41.5).attr('dy', '0.36em').style('font-family', HEAD_FONT)
      .attr('fill', d => d[2]).attr('font-size', 12).text(d => d[1]);

    // TradingView mark in the footer
    const logo = svg.append('g').attr('transform', 'translate(10,1246)').attr('fill', '#d8dbe2');
    logo.append('path').attr('d', 'M0 0H8.6V10H4.6V4.2H0Z');
    logo.append('circle').attr('cx', 11.2).attr('cy', 2.1).attr('r', 2.1);
    logo.append('path').attr('d', 'M15.4 0H20L16 10H11.4Z');
    svg.append('text').attr('x', 33).attr('y', 1250.5).attr('dy', '0.36em').style('font-family', HEAD_FONT)
      .attr('fill', '#d1d4dc').attr('font-size', 13).text('TradingView');
  }, []);

  return <svg ref={svgRef} />;
}
